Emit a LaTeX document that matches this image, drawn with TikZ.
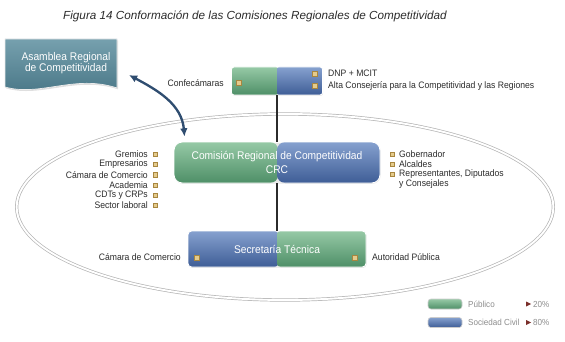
\documentclass[tikz,border=0pt]{standalone}
\usepackage{fontspec}
\setmainfont{Liberation Sans}
\newfontfamily\narrowsf[FakeStretch=0.92]{Liberation Sans}
\usetikzlibrary{shadows,arrows.meta}
\definecolor{pubTop}{HTML}{96C9A6}
\definecolor{pubBottom}{HTML}{4E8F67}
\definecolor{civTop}{HTML}{86A1CF}
\definecolor{civBottom}{HTML}{3E5D96}
\definecolor{asmTop}{HTML}{76A0AE}
\definecolor{asmBottom}{HTML}{477585}
\definecolor{tagFill}{HTML}{E4CB8C}
\definecolor{tagRule}{HTML}{A8863F}
\definecolor{linkBlue}{HTML}{2F4D70}
\definecolor{labelText}{HTML}{2B2B2B}
\definecolor{legendText}{HTML}{8C8C8C}
\definecolor{legendMark}{HTML}{7A2E2A}
\definecolor{ringRule}{HTML}{B5B5B5}
\newcommand{\px}{0.03cm}
\tikzset{
  label text/.style={font=\narrowsf\fontsize{8}{8.6}\selectfont, text=labelText, inner sep=0pt},
  box text/.style={font=\narrowsf\fontsize{9.5}{12}\selectfont, text=white},
  tag/.style={fill=tagFill, draw=tagRule, line width=0.3pt, minimum size=0.16cm, inner sep=0pt},
  two tone/.style 2 args={inner sep=0pt, draw=white, line width=0.8pt,
    drop shadow={opacity=0.2, shadow xshift=0.5pt, shadow yshift=-0.7pt},
    path picture={
      \shade[top color=#1Top, bottom color=#1Bottom]
        (path picture bounding box.north west) rectangle ([xshift=1pt]path picture bounding box.south);
      \shade[top color=#2Top, bottom color=#2Bottom]
        (path picture bounding box.south) rectangle (path picture bounding box.north east);}},
  link line/.style={draw=labelText, line width=1pt},
  link arrow/.style={draw=linkBlue, line width=2pt, {Latex[length=7pt,width=6.5pt]}-{Latex[length=7pt,width=6.5pt]}},
  ring/.style={draw=ringRule, line width=0.6pt, double=white, double distance=1.6pt},
  pill/.style={rounded corners=2.5pt, minimum width=34*\px, minimum height=10*\px, inner sep=0pt,
    draw=gray!40, line width=0.5pt},
  legend text/.style={font=\narrowsf\fontsize{7.5}{9}\selectfont, text=legendText, inner sep=0pt}
}
\newcommand{\leftitem}[3]{%
  \node[label text, anchor=east] (#1) at (148,#2) {#3};
  \node[tag, minimum size=0.13cm] (#1Tag) at (155,#2) {};%
}
\newcommand{\rightitem}[3]{%
  \node[tag, minimum size=0.13cm] (#1Tag) at (392,#2) {};
  \node[label text, anchor=west] (#1) at (399,#2) {#3};%
}

\begin{document}
\begin{tikzpicture}[x=\px, y=-\px]
\useasboundingbox (0,0) rectangle (565,342);

\node[font=\itshape\fontsize{10}{12}\selectfont, text=labelText] (title) at (255,16)
  {Figura 14 Conformación de las Comisiones Regionales de Competitividad};

% Outer ring round the regional commission.
\draw[ring] (285,207) ellipse [x radius=8.05cm, y radius=2.79cm];

% Asamblea: a document shape with a wavy bottom edge.
\path[top color=asmTop, bottom color=asmBottom, draw=white!85!gray, line width=0.6pt,
  drop shadow={opacity=0.25, shadow xshift=1pt, shadow yshift=-1.2pt}]
  (5,39) -- (117,39) -- (117,88) .. controls (75,74) and (40,97) .. (5,87) -- cycle;
\node[box text, align=center, font=\narrowsf\fontsize{9.5}{9.5}\selectfont, inner sep=0pt]
  (asamblea) at (66,63) {Asamblea Regional\\de Competitividad};

% National level box.
\node[two tone={pub}{civ}, rounded corners=2pt, minimum width=91*\px, minimum height=28*\px]
  (nacional) at (277,81) {};
\node[tag] (confTag) at (239,83) {};
\node[tag] (dnpTag) at (315,74) {};
\node[tag] (altaTag) at (315,86) {};
\node[label text, anchor=east] (confecamaras) at (224,83) {Confecámaras};
\node[label text, anchor=west] (dnp) at (328,73) {DNP + MCIT};
\node[label text, anchor=west] (alta) at (328,86)
  {Alta Consejería para la Competitividad y las Regiones};

% Regional commission.
\node[two tone={pub}{civ}, rounded corners=7pt, minimum width=206*\px, minimum height=41*\px,
  box text, align=center] (comision) at (277,162.5)
  {Comisión Regional de Competitividad\\CRC};

\leftitem{gremios}{154}{Gremios}
\leftitem{empresarios}{164.3}{Empresarios}
\leftitem{camara}{174.6}{Cámara de Comercio}
\leftitem{academia}{184.9}{Academia}
\leftitem{cdts}{195.2}{CDTs y CRPs}
\leftitem{sector}{205.5}{Sector laboral}

\rightitem{gobernador}{154}{Gobernador}
\rightitem{alcaldes}{164}{Alcaldes}
\rightitem{representantes}{174}{Representantes, Diputados}
\node[label text, anchor=west] (consejales) at (399,184) {y Consejales};

% Technical secretariat.
\node[two tone={civ}{pub}, rounded corners=3pt, minimum width=178*\px, minimum height=36*\px,
  box text] (secretaria) at (277,249) {Secretaría Técnica};
\node[tag] (camaraStTag) at (197,258) {};
\node[tag] (autoridadTag) at (355,258) {};
\node[label text, anchor=east] (camaraSt) at (181,257) {Cámara de Comercio};
\node[label text, anchor=west] (autoridad) at (372,257) {Autoridad Pública};

% Connectors.
\draw[link line] (nacional.south) -- (comision.north);
\draw[link line] (comision.south) -- (secretaria.north);
\draw[link arrow] ([xshift=0.55cm, yshift=-0.36cm]asamblea.east) to[out=-28, in=95]
  ([xshift=0.33cm, yshift=0.15cm]comision.north west);

% Legend.
\node[pill, top color=pubTop, bottom color=pubBottom] (legPub) at (445,304) {};
\node[pill, top color=civTop, bottom color=civBottom] (legCiv) at (445,322.5) {};
\node[legend text, anchor=west] (legPubText) at (468,304) {Público};
\node[legend text, anchor=west] (legCivText) at (468,322.5) {Sociedad Civil};
\fill[legendMark] (526,301.5) -- (531,304) -- (526,306.5) -- cycle;
\fill[legendMark] (526,320) -- (531,322.5) -- (526,325) -- cycle;
\node[legend text, anchor=west] (legPubPct) at (533,304) {20\%};
\node[legend text, anchor=west] (legCivPct) at (533,322.5) {80\%};

\end{tikzpicture}
\end{document}
